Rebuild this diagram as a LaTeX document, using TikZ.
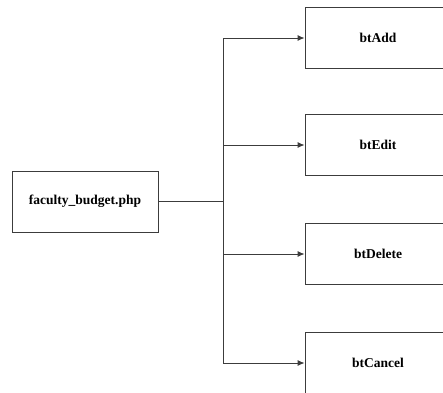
\documentclass[tikz,border=0pt]{standalone}
\usepackage{fontspec}
\setmainfont{Liberation Serif}
\usetikzlibrary{arrows.meta}
\definecolor{ln}{RGB}{60, 60, 60}
\begin{document}
\begin{tikzpicture}[x=1pt, y=-1pt, line width=0.9pt,
    box/.style={draw=ln, minimum width=146pt, minimum height=61pt, inner sep=0pt,
        font=\fontsize{13.5}{16}\selectfont\bfseries},
    arr/.style={draw=ln, -{Latex[length=7pt, width=6pt]}}]
        \useasboundingbox (0,0) rectangle (443,392);
        \clip (0,0) rectangle (443,392);
        \node[box] (fb) at (85,201.5) {faculty\_budget.php};
        \node[box] (add) at (378,38) {btAdd};
        \node[box] (edit) at (378,145) {btEdit};
        \node[box] (del) at (378,254) {btDelete};
        \node[box] (cancel) at (378,363) {btCancel};
        \coordinate (j) at (223,201.5);
        \draw[ln] (fb.east) -- (j);
        \draw[arr] (j) |- (add.west);
        \draw[arr] (j) |- (edit.west);
        \draw[arr] (j) |- (del.west);
        \draw[arr] (j) |- (cancel.west);
    \end{tikzpicture}
\end{document}
